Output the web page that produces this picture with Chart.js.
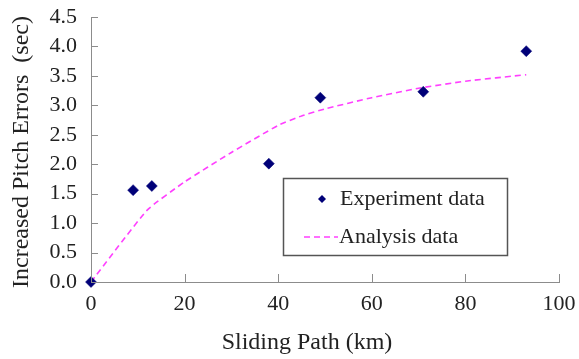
<!DOCTYPE html>
<html>
<head>
<meta charset="utf-8">
<script src="https://cdn.jsdelivr.net/npm/chart.js@4.4.1/dist/chart.umd.min.js"></script>
<style>
  html, body { margin: 0; padding: 0; background: #fff; }
  #wrap { width: 579px; height: 359px; }
</style>
</head>
<body>
<div id="wrap"><canvas id="chart" width="579" height="359"></canvas></div>
<script>
// datos
const expX = [0, 9, 13, 38, 49, 71, 93];
const expY = [0, 1.56, 1.63, 2.01, 3.13, 3.23, 3.92];
const anaX = [0, 12, 20, 30, 40, 45, 50, 60, 70, 80, 93];
const anaY = [0, 1.22, 1.7, 2.2, 2.66, 2.82, 2.94, 3.13, 3.29, 3.41, 3.52];
const xTicks = [0, 20, 40, 60, 80, 100];
const yTicks = [0, 0.5, 1, 1.5, 2, 2.5, 3, 3.5, 4, 4.5];
const seriesNames = ['Experiment data', 'Analysis data'];
const xTitle = 'Sliding Path (km)';
const yTitle = 'Increased Pitch Errors  (sec)';

const SERIF = '"Liberation Serif", "Times New Roman", serif';
const AXIS = '#8c8c8c';
const NAVY = '#000078';
const PINK = '#ff40ff';

// marcas de eje hacia dentro, titulos y leyenda
const extras = {
  id: 'extras',
  afterDraw(chart) {
    const ctx = chart.ctx;
    const xs = chart.scales.x, ys = chart.scales.y;
    const area = chart.chartArea;
    ctx.save();
    ctx.strokeStyle = AXIS;
    ctx.lineWidth = 1;
    ctx.beginPath();
    yTicks.forEach(v => {
      const py = Math.round(ys.getPixelForValue(v)) + 0.5;
      ctx.moveTo(area.left, py);
      ctx.lineTo(area.left + 7, py);
    });
    xTicks.forEach(v => {
      const px = Math.round(xs.getPixelForValue(v)) + 0.5;
      ctx.moveTo(px, area.bottom);
      ctx.lineTo(px, area.bottom - 8);
    });
    ctx.stroke();

    // titulos
    ctx.fillStyle = '#222';
    ctx.font = '24px ' + SERIF;
    ctx.textAlign = 'center';
    ctx.textBaseline = 'middle';
    ctx.fillText(xTitle, 307, 343);
    ctx.save();
    ctx.translate(22, 152);
    ctx.rotate(-Math.PI / 2);
    ctx.fillText(yTitle, 0, 0);
    ctx.restore();

    // leyenda
    ctx.fillStyle = '#fff';
    ctx.fillRect(283, 178, 224, 77);
    ctx.strokeStyle = '#555';
    ctx.lineWidth = 1.5;
    ctx.strokeRect(283.5, 178.5, 224, 77);

    ctx.fillStyle = NAVY;
    ctx.beginPath();
    ctx.moveTo(322, 195);
    ctx.lineTo(326, 199);
    ctx.lineTo(322, 203);
    ctx.lineTo(318, 199);
    ctx.closePath();
    ctx.fill();

    ctx.strokeStyle = PINK;
    ctx.lineWidth = 1.5;
    ctx.setLineDash([6, 4]);
    ctx.beginPath();
    ctx.moveTo(304, 237);
    ctx.lineTo(338, 237);
    ctx.stroke();
    ctx.setLineDash([]);

    ctx.fillStyle = '#222';
    ctx.font = '22px ' + SERIF;
    ctx.textAlign = 'left';
    ctx.fillText(seriesNames[0], 340, 199);
    ctx.fillText(seriesNames[1], 339, 237);
    ctx.restore();
  }
};

new Chart(document.getElementById('chart'), {
  type: 'scatter',
  data: {
    datasets: [
      {
        label: seriesNames[1],
        data: anaX.map((x, i) => ({ x: x, y: anaY[i] })),
        showLine: true,
        borderColor: PINK,
        borderWidth: 1.6,
        borderDash: [6, 4],
        pointRadius: 0,
        tension: 0.15,
        order: 2
      },
      {
        label: seriesNames[0],
        data: expX.map((x, i) => ({ x: x, y: expY[i] })),
        pointStyle: 'rectRot',
        pointRadius: 5.5,
        backgroundColor: NAVY,
        borderColor: NAVY,
        borderWidth: 0.5,
        order: 1
      }
    ]
  },
  options: {
    responsive: false,
    animation: false,
    clip: false,
    layout: { padding: { top: 17, right: 20, bottom: 0, left: 0 } },
    plugins: { legend: { display: false }, tooltip: { enabled: false } },
    scales: {
      x: {
        type: 'linear',
        min: 0, max: 100,
        afterBuildTicks: s => { s.ticks = xTicks.map(v => ({ value: v })); },
        afterFit: s => { s.height = 77; s.paddingLeft = 0; s.paddingRight = 0; },
        grid: { display: false, drawTicks: false },
        border: { display: true, color: AXIS, width: 1 },
        ticks: {
          padding: 9,
          autoSkip: false,
          maxRotation: 0,
          color: '#222',
          font: { family: SERIF, size: 22 },
          callback: v => String(v)
        }
      },
      y: {
        type: 'linear',
        min: 0, max: 4.5,
        afterBuildTicks: s => { s.ticks = yTicks.map(v => ({ value: v })); },
        afterFit: s => { s.width = 91; s.paddingTop = 0; s.paddingBottom = 0; },
        grid: { display: false, drawTicks: false },
        border: { display: true, color: AXIS, width: 1 },
        ticks: {
          padding: 14,
          autoSkip: false,
          color: '#222',
          font: { family: SERIF, size: 22 },
          callback: v => v.toFixed(1)
        }
      }
    }
  },
  plugins: [extras]
});
</script>
</body>
</html>
